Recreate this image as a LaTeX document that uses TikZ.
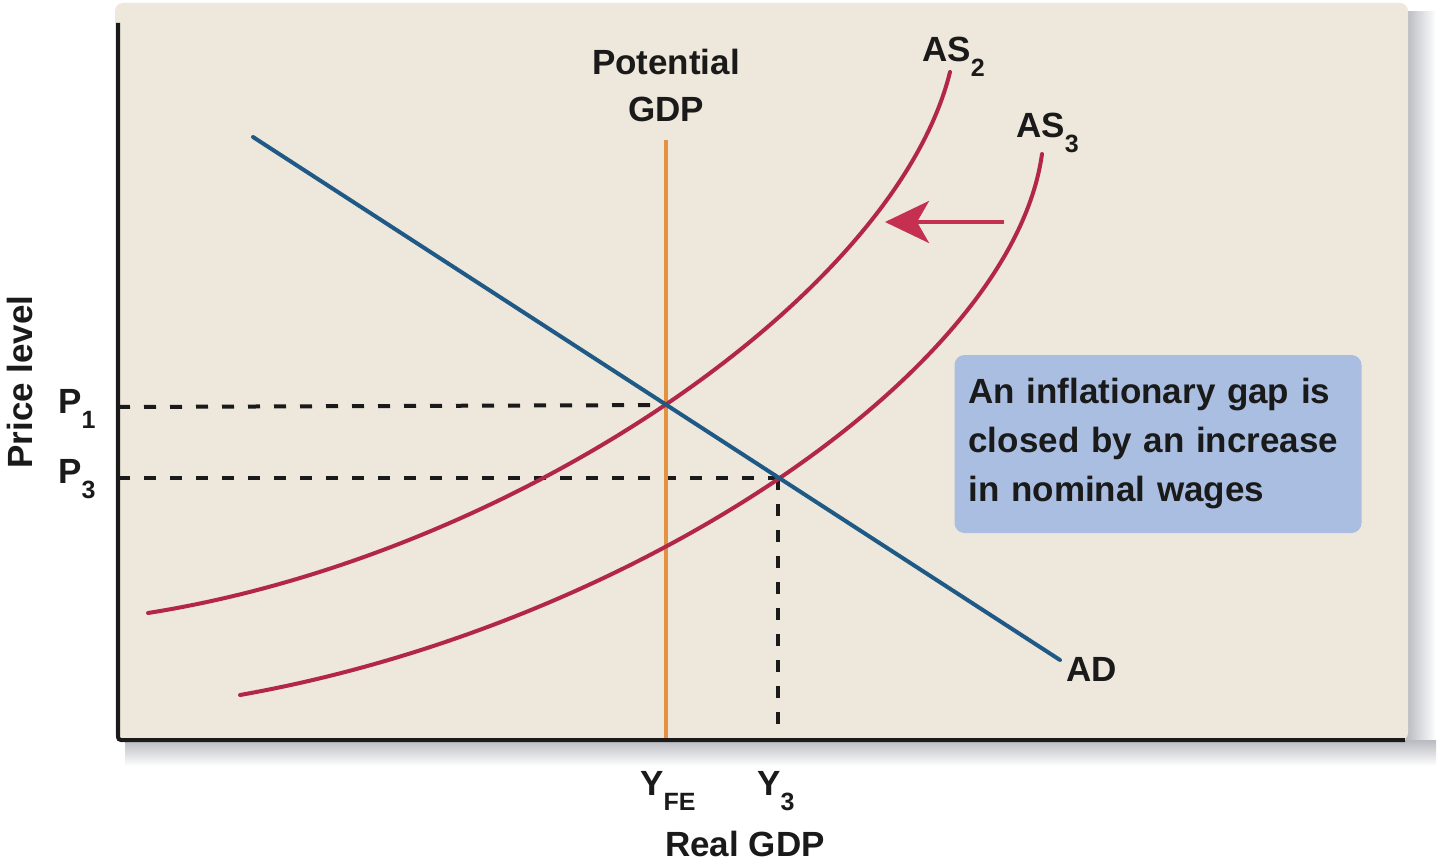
\documentclass[tikz,border=0pt]{standalone}
\usepackage{fontspec}
\setmainfont{Liberation Sans}
\usetikzlibrary{arrows.meta}
\definecolor{panel}{HTML}{EEE7DB}
\definecolor{adblue}{HTML}{1E5A85}
\definecolor{potorange}{HTML}{E3933F}
\definecolor{ascrimson}{HTML}{B2264A}
\definecolor{arrowred}{HTML}{C52F50}
\definecolor{boxblue}{HTML}{A9BEE0}
\definecolor{ink}{HTML}{1A1A1A}
\definecolor{shadowgray}{HTML}{B8BAC0}
\newcommand{\lsub}[1]{\raisebox{-15pt}{\fontsize{25}{25}\selectfont #1}}
\begin{document}
\begin{tikzpicture}[x=1pt,y=-1pt,
  lab/.style={font=\bfseries\fontsize{35}{40}\selectfont, text=ink, inner sep=0pt},
  axisline/.style={draw=ink, line width=4pt},
  guide/.style={draw=ink, line width=4pt, dash pattern=on 12pt off 14pt},
  ascurve/.style={draw=ascrimson, line width=4pt, line cap=round},
  adline/.style={draw=adblue, line width=4pt, line cap=round},
  potline/.style={draw=potorange, line width=3.5pt},
  shiftarrow/.style={draw=arrowred, fill=arrowred, line width=4pt, -{Stealth[length=44pt,width=42pt,inset=12pt]}},
  notebox/.style={fill=boxblue, rounded corners=10pt, inner xsep=14pt, minimum width=407pt, minimum height=178pt, text width=379pt, align=left, font=\bfseries\fontsize{35}{49}\selectfont, text=ink}
]
\useasboundingbox (0,0) rectangle (1440,864);
% shadows
\shade[left color=shadowgray, right color=white] (1406,12) rectangle (1436,762);
\shade[top color=shadowgray, bottom color=white] (125,740) rectangle (1436,766);
% panel
\fill[panel, rounded corners=8pt] (115,3) rectangle (1408,741);
% key coordinates
\coordinate (ytop) at (118,23);
\coordinate (origin) at (118,740);
\coordinate (xend) at (1405,740);
\coordinate (E1) at (666,405);
\coordinate (E3) at (778,478);
\coordinate (P1ax) at (118,407);
\coordinate (P3ax) at (118,478);
\coordinate (Y3ax) at (778,740);
\coordinate (potTop) at (666,140);
\coordinate (potBot) at (666,740);
\coordinate (adStart) at (253,137);
\coordinate (adEnd) at (1060,660);
\coordinate (arrTail) at (1004,222);
\coordinate (arrTip) at (885,222);
\coordinate (as2s) at (148,613);
\coordinate (as2e) at (950,72);
\coordinate (as3s) at (240,695);
\coordinate (as3e) at (1042,154);
% guides
\draw[guide] (P1ax) -- (E1);
\draw[guide] (P3ax) -- (E3);
\draw[guide] (E3) -- (Y3ax);
% potential GDP
\draw[potline] (potTop) -- (potBot);
% AS curves
\draw[ascurve] (as2s) .. controls (515,555) and (895,295) .. (as2e);
\draw[ascurve] (as3s) .. controls (635,625) and (1012,370) .. (as3e);
% AD
\draw[adline] (adStart) -- (adEnd);
% shift arrow
\draw[shiftarrow] (arrTail) -- (arrTip);
% axes
\draw[axisline, rounded corners=3pt] (ytop) -- (origin) -- (xend);
% labels
\node[lab, anchor=base] (potA) at (666,75) {Potential};
\node[lab, anchor=base] (potB) at (666,122) {GDP};
\node[lab, anchor=base west] (as2) at (922,62) {AS\lsub{2}};
\node[lab, anchor=base west] (as3) at (1016,138) {AS\lsub{3}};
\node[lab, anchor=base west] (ad) at (1066,681) {AD};
\node[lab, anchor=base west] (p1) at (58,413) {P\lsub{1}};
\node[lab, anchor=base west] (p3) at (58,483) {P\lsub{3}};
\node[lab, anchor=base west] (yfe) at (640,795) {Y\lsub{FE}};
\node[lab, anchor=base west] (y3) at (757,795) {Y\lsub{3}};
\node[lab, anchor=base] (xlab) at (745,856) {Real GDP};
\node[lab, anchor=base, rotate=90] (ylab) at (32,382) {Price level};
\node[notebox] (note) at (1158,444) {An inflationary gap is\\closed by an increase\\in nominal wages};
\end{tikzpicture}
\end{document}
